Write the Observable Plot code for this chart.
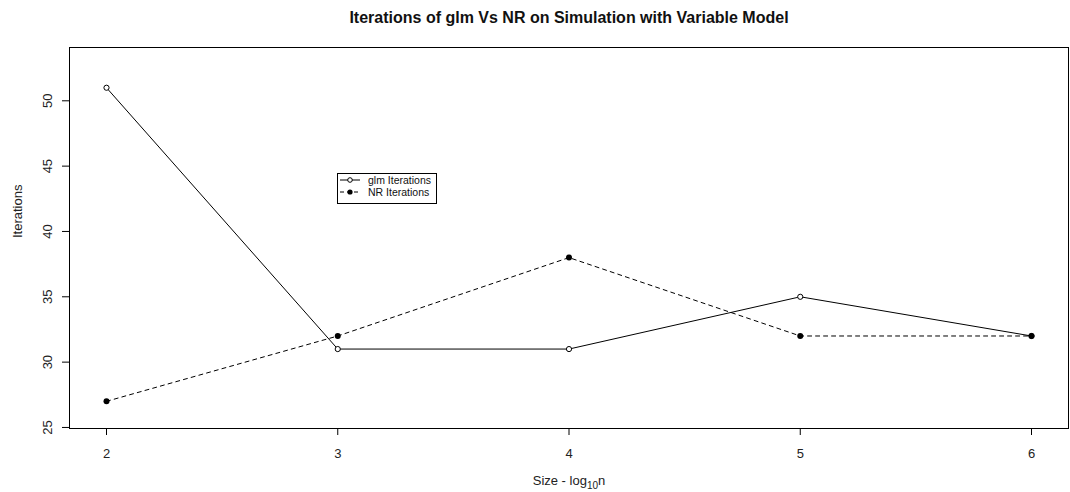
<!DOCTYPE html>
<html><head><meta charset="utf-8">
<script src="https://cdn.jsdelivr.net/npm/d3@7"></script>
<script src="https://cdn.jsdelivr.net/npm/@observablehq/plot@0.6"></script>
<style>body{margin:0;background:#fff}</style>
</head><body><div id="chart"></div>
<script>
const sizes = [2, 3, 4, 5, 6];
const glmIterations = [51, 31, 31, 35, 32];
const nrIterations = [27, 32, 38, 32, 32];
const xTicks = [2, 3, 4, 5, 6];
const yTicks = [25, 30, 35, 40, 45, 50];
const titleText = "Iterations of glm Vs NR on Simulation with Variable Model";
const xLabelText = "Size - log10n";
const yLabelText = "Iterations";
const legendLabels = ["glm Iterations", "NR Iterations"];

const glm = sizes.map((s, i) => ({size: s, it: glmIterations[i]}));
const nr = sizes.map((s, i) => ({size: s, it: nrIterations[i]}));

const font = "'Liberation Sans', Arial, sans-serif";

const chart = Plot.plot({
  width: 1070,
  height: 492,
  marginLeft: 69,
  marginRight: 2,
  marginTop: 47,
  marginBottom: 64,
  style: {fontFamily: font, background: "#fff", color: "#000"},
  x: {domain: [1.84, 6.16]},
  y: {domain: [24.92, 54.08]},
  marks: [
    Plot.frame({stroke: "#000", strokeWidth: 1}),
    Plot.axisX(xTicks, {tickSize: 7, tickPadding: 13, fontSize: 13, label: null, stroke: "#000", fill: "#222", tickFormat: d => String(d)}),
    Plot.axisY(yTicks, {tickSize: 7, tickFormat: () => "", label: null, stroke: "#000"}),
    Plot.text(yTicks, {y: d => d, text: d => String(d), frameAnchor: "left", dx: -22, rotate: -90, textAnchor: "middle", lineAnchor: "middle", fontSize: 13, fill: "#222"}),
    Plot.line(glm, {x: "size", y: "it", stroke: "#000", strokeWidth: 1}),
    Plot.line(nr, {x: "size", y: "it", stroke: "#000", strokeWidth: 1, strokeDasharray: "4,4"}),
    Plot.dot(glm, {x: "size", y: "it", r: 2.6, stroke: "#000", fill: "#fff", strokeWidth: 1}),
    Plot.dot(nr, {x: "size", y: "it", r: 3, fill: "#000", stroke: "none"}),
    Plot.text([titleText], {frameAnchor: "top", dy: -30, fontSize: 16, fontWeight: "bold", lineAnchor: "middle", fill: "#111"}),
    Plot.text([xLabelText], {frameAnchor: "bottom", dy: 52, fontSize: 13, lineAnchor: "middle", fill: "#222"}),
    Plot.text([yLabelText], {frameAnchor: "left", dx: -52, rotate: -90, fontSize: 13, lineAnchor: "middle", fill: "#222"})
  ]
});

document.getElementById("chart").appendChild(chart);

// subscript in x label
const svg = d3.select(chart);
svg.selectAll("text").filter(function () { return this.textContent === xLabelText; }).each(function () {
  const t = d3.select(this);
  t.text(null);
  t.append("tspan").text("Size - log");
  t.append("tspan").attr("dy", 4).attr("font-size", 10).text("10");
  t.append("tspan").attr("dy", -4).text("n");
});

// legend box
const lg = svg.append("g").attr("font-family", font).attr("font-size", 10.5).attr("text-anchor", "start");
lg.append("rect").attr("x", 337.5).attr("y", 173.5).attr("width", 99).attr("height", 30)
  .attr("fill", "#fff").attr("stroke", "#000").attr("stroke-width", 1);
const rows = [
  {label: legendLabels[0], dash: null, fill: "#fff", r: 2.3, y: 180},
  {label: legendLabels[1], dash: "4,3", fill: "#000", r: 2.6, y: 192}
];
rows.forEach(row => {
  const l = lg.append("line").attr("x1", 340).attr("x2", 360).attr("y1", row.y).attr("y2", row.y)
    .attr("stroke", "#000").attr("stroke-width", 1);
  if (row.dash) l.attr("stroke-dasharray", row.dash);
  lg.append("circle").attr("cx", 350).attr("cy", row.y).attr("r", row.r)
    .attr("fill", row.fill).attr("stroke", row.fill === "#fff" ? "#000" : "none");
  lg.append("text").attr("x", 368).attr("y", row.y).attr("dy", "0.35em").attr("text-anchor", "start").attr("fill", "#111").text(row.label);
});
</script>
</body></html>
